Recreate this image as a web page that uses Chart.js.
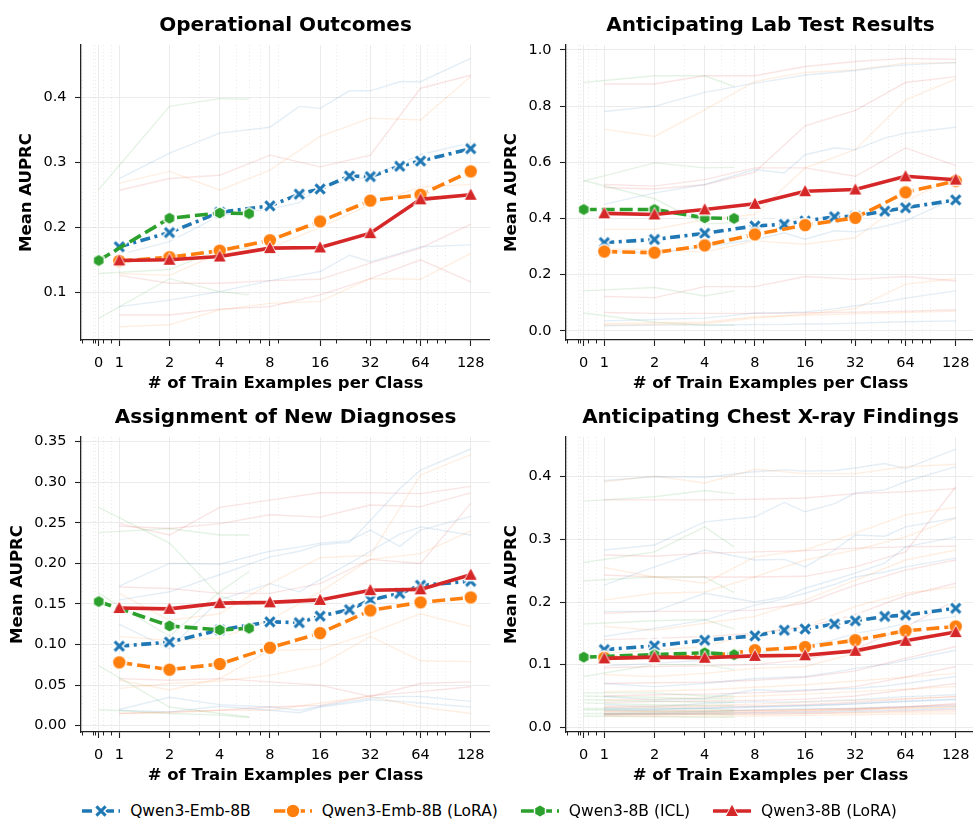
<!DOCTYPE html>
<html>
<head>
<meta charset="utf-8">
<script src="https://cdn.jsdelivr.net/npm/chart.js@4.4.1/dist/chart.umd.min.js"></script>
<style>
  html, body { margin: 0; padding: 0; background: #fff; }
  #fig { position: relative; width: 973px; height: 821px; overflow: hidden; background: #fff;
         font-family: "DejaVu Sans", sans-serif; }
  #fig canvas.panel { position: absolute; }
  #legend { position: absolute; left: 0; top: 798px; width: 979px; height: 26px; display: flex;
            justify-content: center; align-items: center; font-size: 15.5px; color: #000; }
  #legend .item { display: flex; align-items: center; margin: 0 11.5px; white-space: nowrap; }
  #legend canvas { margin-right: 10px; }
</style>
</head>
<body>
<div id="fig">
  <canvas id="p0" class="panel" width="490" height="400" style="left:0;top:0"></canvas>
  <canvas id="p1" class="panel" width="490" height="400" style="left:485px;top:0"></canvas>
  <canvas id="p2" class="panel" width="490" height="400" style="left:0;top:392px"></canvas>
  <canvas id="p3" class="panel" width="490" height="400" style="left:485px;top:392px"></canvas>
  <div id="legend"></div>
</div>
<script>
// ---------- x positions (train examples per class) ----------
const EMB_X  = [1, 2, 4, 8, 12, 16, 24, 32, 48, 64, 128];
const LORA_X = [1, 2, 4, 8, 16, 32, 64, 128];
const ICL_X  = [0, 2, 4, 6];
const X_TICKS = [0, 1, 2, 4, 8, 16, 32, 64, 128];
const X_MINOR = [-0.8, -0.28, -0.16, 0.2, 0.6, 3, 5, 6, 7, 9, 20, 30, 40, 50, 60, 70, 80, 90];
const X_MIN = -0.86;
const X_MAX = 167;

const SERIES_NAMES = ['Qwen3-Emb-8B', 'Qwen3-Emb-8B (LoRA)', 'Qwen3-8B (ICL)', 'Qwen3-8B (LoRA)'];
const PANEL_TITLES = ['Operational Outcomes', 'Anticipating Lab Test Results',
                      'Assignment of New Diagnoses', 'Anticipating Chest X-ray Findings'];
const X_LABEL = '# of Train Examples per Class';
const Y_LABEL = 'Mean AUPRC';

// ---------- y tick labels per panel ----------
const OPS_Y_TICKS   = [0.1, 0.2, 0.3, 0.4];
const LAB_Y_TICKS   = [0.0, 0.2, 0.4, 0.6, 0.8, 1.0];
const DIAG_Y_TICKS  = [0.00, 0.05, 0.10, 0.15, 0.20, 0.25, 0.30, 0.35];
const CHEST_Y_TICKS = [0.0, 0.1, 0.2, 0.3, 0.4];

// ---------- Operational Outcomes ----------
const OPS_EMB      = [0.170, 0.192, 0.223, 0.233, 0.251, 0.259, 0.279, 0.278, 0.294, 0.302, 0.321];
const OPS_EMB_LORA = [0.148, 0.154, 0.164, 0.180, 0.209, 0.241, 0.250, 0.286];
const OPS_ICL      = [0.149, 0.214, 0.222, 0.221];
const OPS_LLM_LORA = [0.149, 0.150, 0.155, 0.168, 0.169, 0.191, 0.243, 0.250];
const OPS_TASKS_EMB = [
  [0.275, 0.314, 0.345, 0.354, 0.386, 0.383, 0.410, 0.410, 0.424, 0.424, 0.460],
  [0.078, 0.088, 0.101, 0.118, 0.126, 0.132, 0.157, 0.147, 0.160, 0.170, 0.173],
  [0.158, 0.178, 0.218, 0.228, 0.238, 0.262, 0.272, 0.278, 0.298, 0.312, 0.330]
];
const OPS_TASKS_EMB_LORA = [
  [0.268, 0.286, 0.257, 0.288, 0.340, 0.368, 0.365, 0.432],
  [0.047, 0.050, 0.073, 0.083, 0.086, 0.121, 0.120, 0.160],
  [0.129, 0.126, 0.160, 0.168, 0.200, 0.235, 0.262, 0.266]
];
const OPS_TASKS_ICL = [
  [0.258, 0.386, 0.398, 0.397],
  [0.129, 0.135, 0.166, 0.168],
  [0.060, 0.121, 0.101, 0.096]
];
const OPS_TASKS_LLM_LORA = [
  [0.257, 0.275, 0.280, 0.311, 0.293, 0.311, 0.414, 0.434],
  [0.065, 0.065, 0.074, 0.078, 0.096, 0.121, 0.150, 0.116],
  [0.126, 0.114, 0.114, 0.118, 0.120, 0.145, 0.168, 0.205]
];

// ---------- Anticipating Lab Test Results ----------
const LAB_EMB      = [0.314, 0.325, 0.347, 0.373, 0.379, 0.391, 0.406, 0.408, 0.426, 0.438, 0.466];
const LAB_EMB_LORA = [0.282, 0.278, 0.304, 0.343, 0.376, 0.402, 0.493, 0.533];
const LAB_ICL      = [0.432, 0.432, 0.402, 0.400];
const LAB_LLM_LORA = [0.418, 0.414, 0.432, 0.452, 0.497, 0.503, 0.550, 0.538];
const LAB_TASKS_EMB = [
  [0.781, 0.799, 0.849, 0.882, 0.898, 0.911, 0.920, 0.927, 0.940, 0.947, 0.955],
  [0.450, 0.491, 0.521, 0.574, 0.562, 0.627, 0.651, 0.645, 0.686, 0.704, 0.725],
  [0.018, 0.020, 0.020, 0.022, 0.022, 0.024, 0.025, 0.027, 0.030, 0.032, 0.035],
  [0.035, 0.040, 0.045, 0.063, 0.064, 0.067, 0.078, 0.089, 0.102, 0.116, 0.142],
  [0.286, 0.275, 0.300, 0.324, 0.349, 0.326, 0.356, 0.352, 0.372, 0.391, 0.473]
];
const LAB_TASKS_EMB_LORA = [
  [0.718, 0.692, 0.787, 0.888, 0.920, 0.929, 0.953, 0.955],
  [0.361, 0.361, 0.396, 0.414, 0.580, 0.645, 0.822, 0.896],
  [0.020, 0.022, 0.025, 0.045, 0.059, 0.079, 0.166, 0.186],
  [0.025, 0.028, 0.030, 0.050, 0.055, 0.060, 0.065, 0.070],
  [0.290, 0.290, 0.280, 0.320, 0.308, 0.331, 0.460, 0.550]
];
const LAB_TASKS_ICL = [
  [0.884, 0.908, 0.908, 0.870],
  [0.533, 0.598, 0.580, 0.582],
  [0.535, 0.470, 0.380, 0.385],
  [0.142, 0.154, 0.124, 0.142],
  [0.063, 0.030, 0.020, 0.020]
];
const LAB_TASKS_LLM_LORA = [
  [0.879, 0.879, 0.908, 0.908, 0.941, 0.959, 0.970, 0.967],
  [0.521, 0.515, 0.538, 0.580, 0.580, 0.550, 0.651, 0.588],
  [0.122, 0.118, 0.157, 0.157, 0.193, 0.183, 0.193, 0.177],
  [0.065, 0.062, 0.062, 0.062, 0.064, 0.066, 0.070, 0.075],
  [0.510, 0.505, 0.520, 0.565, 0.730, 0.785, 0.884, 0.905]
];

// ---------- Assignment of New Diagnoses ----------
const DIAG_EMB      = [0.098, 0.103, 0.118, 0.128, 0.127, 0.135, 0.143, 0.155, 0.163, 0.173, 0.178];
const DIAG_EMB_LORA = [0.078, 0.069, 0.076, 0.096, 0.114, 0.142, 0.152, 0.158];
const DIAG_ICL      = [0.153, 0.123, 0.118, 0.120];
const DIAG_LLM_LORA = [0.145, 0.144, 0.151, 0.152, 0.155, 0.167, 0.168, 0.186];
const DIAG_TASKS_EMB = [
  [0.172, 0.200, 0.199, 0.215, 0.220, 0.225, 0.228, 0.241, 0.221, 0.241, 0.258],
  [0.155, 0.165, 0.186, 0.208, 0.215, 0.223, 0.226, 0.253, 0.292, 0.315, 0.341],
  [0.019, 0.017, 0.024, 0.019, 0.016, 0.023, 0.028, 0.032, 0.030, 0.028, 0.023],
  [0.125, 0.095, 0.155, 0.175, 0.165, 0.180, 0.200, 0.215, 0.236, 0.245, 0.235],
  [0.020, 0.035, 0.026, 0.023, 0.019, 0.024, 0.030, 0.034, 0.036, 0.036, 0.030]
];
const DIAG_TASKS_EMB_LORA = [
  [0.163, 0.130, 0.138, 0.175, 0.207, 0.210, 0.309, 0.334],
  [0.056, 0.044, 0.058, 0.093, 0.094, 0.114, 0.138, 0.122],
  [0.015, 0.016, 0.019, 0.019, 0.028, 0.036, 0.023, 0.015],
  [0.110, 0.105, 0.108, 0.130, 0.165, 0.205, 0.212, 0.240],
  [0.046, 0.052, 0.055, 0.062, 0.075, 0.110, 0.080, 0.079]
];
const DIAG_TASKS_ICL = [
  [0.269, 0.225, 0.160, 0.148],
  [0.238, 0.243, 0.235, 0.235],
  [0.163, 0.110, 0.165, 0.190],
  [0.074, 0.023, 0.015, 0.011],
  [0.020, 0.015, 0.013, 0.010]
];
const DIAG_TASKS_LLM_LORA = [
  [0.249, 0.235, 0.269, 0.278, 0.287, 0.287, 0.286, 0.295],
  [0.246, 0.243, 0.249, 0.260, 0.257, 0.272, 0.270, 0.287],
  [0.171, 0.169, 0.163, 0.163, 0.175, 0.205, 0.200, 0.274],
  [0.058, 0.056, 0.058, 0.054, 0.050, 0.036, 0.052, 0.054],
  [0.015, 0.017, 0.019, 0.023, 0.025, 0.037, 0.042, 0.048]
];

// ---------- Anticipating Chest X-ray Findings ----------
const CHEST_EMB      = [0.124, 0.130, 0.139, 0.146, 0.155, 0.157, 0.165, 0.170, 0.177, 0.179, 0.190];
const CHEST_EMB_LORA = [0.111, 0.112, 0.113, 0.123, 0.128, 0.139, 0.154, 0.161];
const CHEST_ICL      = [0.112, 0.116, 0.119, 0.116];
const CHEST_LLM_LORA = [0.110, 0.112, 0.111, 0.114, 0.115, 0.122, 0.138, 0.152];
const CHEST_TASKS_EMB = [
  [0.394, 0.400, 0.399, 0.408, 0.411, 0.409, 0.410, 0.414, 0.421, 0.413, 0.444],
  [0.283, 0.291, 0.328, 0.336, 0.359, 0.344, 0.357, 0.374, 0.379, 0.392, 0.416],
  [0.227, 0.256, 0.283, 0.267, 0.268, 0.256, 0.283, 0.307, 0.305, 0.320, 0.334],
  [0.185, 0.185, 0.214, 0.200, 0.208, 0.222, 0.236, 0.246, 0.262, 0.288, 0.304],
  [0.145, 0.158, 0.171, 0.195, 0.205, 0.214, 0.228, 0.240, 0.248, 0.256, 0.270],
  [0.098, 0.102, 0.107, 0.118, 0.124, 0.129, 0.140, 0.150, 0.158, 0.166, 0.177],
  [0.070, 0.065, 0.070, 0.078, 0.080, 0.081, 0.088, 0.094, 0.100, 0.107, 0.123],
  [0.049, 0.044, 0.046, 0.060, 0.058, 0.060, 0.061, 0.062, 0.066, 0.070, 0.081],
  [0.036, 0.033, 0.038, 0.041, 0.040, 0.041, 0.043, 0.044, 0.047, 0.049, 0.052],
  [0.028, 0.028, 0.030, 0.032, 0.033, 0.034, 0.036, 0.037, 0.040, 0.041, 0.044],
  [0.022, 0.023, 0.025, 0.028, 0.029, 0.030, 0.030, 0.030, 0.032, 0.033, 0.034],
  [0.030, 0.029, 0.031, 0.033, 0.034, 0.035, 0.036, 0.038, 0.040, 0.042, 0.045],
  [0.020, 0.021, 0.022, 0.023, 0.024, 0.024, 0.025, 0.026, 0.027, 0.028, 0.030]
];
const CHEST_TASKS_EMB_LORA = [
  [0.392, 0.401, 0.390, 0.412, 0.405, 0.405, 0.416, 0.420],
  [0.255, 0.240, 0.230, 0.272, 0.283, 0.310, 0.339, 0.351],
  [0.203, 0.214, 0.216, 0.240, 0.267, 0.283, 0.304, 0.334],
  [0.161, 0.155, 0.166, 0.177, 0.203, 0.235, 0.267, 0.283],
  [0.118, 0.123, 0.129, 0.150, 0.161, 0.193, 0.214, 0.224],
  [0.084, 0.081, 0.086, 0.094, 0.097, 0.118, 0.139, 0.150],
  [0.057, 0.058, 0.060, 0.064, 0.068, 0.074, 0.080, 0.086],
  [0.044, 0.045, 0.047, 0.050, 0.053, 0.057, 0.061, 0.065],
  [0.033, 0.034, 0.035, 0.037, 0.040, 0.043, 0.046, 0.049],
  [0.025, 0.025, 0.026, 0.027, 0.028, 0.030, 0.031, 0.033],
  [0.020, 0.020, 0.021, 0.021, 0.022, 0.023, 0.024, 0.025],
  [0.022, 0.023, 0.024, 0.025, 0.027, 0.028, 0.030, 0.032],
  [0.017, 0.017, 0.018, 0.018, 0.019, 0.020, 0.021, 0.022]
];
const CHEST_TASKS_ICL = [
  [0.361, 0.368, 0.378, 0.373],
  [0.263, 0.280, 0.320, 0.288],
  [0.234, 0.240, 0.240, 0.215],
  [0.165, 0.170, 0.172, 0.157],
  [0.081, 0.100, 0.100, 0.092],
  [0.055, 0.055, 0.050, 0.050],
  [0.050, 0.048, 0.045, 0.046],
  [0.044, 0.042, 0.040, 0.040],
  [0.039, 0.036, 0.035, 0.035],
  [0.030, 0.030, 0.030, 0.028],
  [0.028, 0.026, 0.025, 0.025],
  [0.022, 0.022, 0.021, 0.020],
  [0.018, 0.017, 0.016, 0.016]
];
const CHEST_TASKS_LLM_LORA = [
  [0.363, 0.363, 0.363, 0.364, 0.366, 0.373, 0.376, 0.381],
  [0.275, 0.273, 0.278, 0.280, 0.282, 0.286, 0.288, 0.289],
  [0.243, 0.240, 0.240, 0.240, 0.241, 0.256, 0.280, 0.384],
  [0.182, 0.185, 0.185, 0.187, 0.198, 0.227, 0.251, 0.267],
  [0.140, 0.142, 0.145, 0.150, 0.160, 0.180, 0.210, 0.230],
  [0.095, 0.097, 0.098, 0.100, 0.108, 0.125, 0.160, 0.203],
  [0.070, 0.071, 0.072, 0.075, 0.080, 0.090, 0.110, 0.129],
  [0.050, 0.052, 0.053, 0.055, 0.058, 0.065, 0.080, 0.097],
  [0.040, 0.041, 0.042, 0.043, 0.045, 0.050, 0.060, 0.070],
  [0.032, 0.032, 0.033, 0.034, 0.036, 0.040, 0.045, 0.049],
  [0.026, 0.026, 0.027, 0.027, 0.028, 0.030, 0.033, 0.036],
  [0.020, 0.020, 0.021, 0.021, 0.022, 0.024, 0.026, 0.028],
  [0.022, 0.022, 0.023, 0.024, 0.025, 0.028, 0.032, 0.038]
];

// ---------- styling ----------
const FONT = '"DejaVu Sans", sans-serif';
const COLORS = ['#1f77b4', '#ff7f0e', '#2ca02c', '#d62728'];
const FAINT  = ['rgba(31,119,180,0.12)', 'rgba(255,127,14,0.12)', 'rgba(44,160,44,0.12)', 'rgba(214,39,40,0.12)'];
const DASHES = [[10, 4.5, 3, 4.5], [13, 5], [13, 5], []];
const SERIES_X = [EMB_X, LORA_X, ICL_X, LORA_X];

// symmetric-log style position: linear between 0 and 1, log2 above 1
const LIN = 0.41;
function T(v) { return v >= 1 ? Math.log2(v) : (v - 1) * LIN; }

// marker sprites with a white outline
function sprite(kind, color) {
  const c = document.createElement('canvas');
  c.width = 20; c.height = 20;
  const g = c.getContext('2d');
  g.translate(10, 10);
  const shape = (r) => {
    g.beginPath();
    if (kind === 'circle') g.arc(0, 0, r, 0, Math.PI * 2);
    else if (kind === 'triangle') { g.moveTo(0, -r * 1.05); g.lineTo(r, r * 0.85); g.lineTo(-r, r * 0.85); g.closePath(); }
    else if (kind === 'hexagon') {
      for (let k = 0; k < 6; k++) {
        const a = -Math.PI / 2 + k * Math.PI / 3;
        k ? g.lineTo(r * Math.cos(a), r * Math.sin(a)) : g.moveTo(r * Math.cos(a), r * Math.sin(a));
      }
      g.closePath();
    }
  };
  if (kind === 'x') {
    const arm = (a, w, col, cap) => {
      g.strokeStyle = col; g.lineWidth = w; g.lineCap = cap;
      g.beginPath(); g.moveTo(-a, -a); g.lineTo(a, a); g.moveTo(a, -a); g.lineTo(-a, a); g.stroke();
    };
    arm(5.4, 6, '#fff', 'round');
    arm(4.6, 3, color, 'butt');
  } else {
    const r = kind === 'circle' ? 7.8 : kind === 'triangle' ? 7.5 : 7.1;
    shape(r); g.fillStyle = '#fff'; g.fill();
    shape(r - 1.6); g.fillStyle = color; g.fill();
  }
  return c;
}
const MARKERS = [sprite('x', COLORS[0]), sprite('circle', COLORS[1]), sprite('hexagon', COLORS[2]), sprite('triangle', COLORS[3])];

// minor ticks and dotted minor grid on the x axis
const minorTicks = {
  id: 'minorTicks',
  beforeDatasetsDraw(chart) {
    const { ctx, chartArea: a, scales: { x } } = chart;
    ctx.save();
    ctx.strokeStyle = 'rgba(0,0,0,0.10)';
    ctx.lineWidth = 0.8;
    ctx.setLineDash([1, 2.5]);
    X_MINOR.forEach(v => {
      const px = Math.round(x.getPixelForValue(T(v))) + 0.5;
      ctx.beginPath(); ctx.moveTo(px, a.top); ctx.lineTo(px, a.bottom); ctx.stroke();
    });
    ctx.restore();
  },
  afterDraw(chart) {
    const { ctx, chartArea: a, scales: { x } } = chart;
    ctx.save();
    ctx.strokeStyle = '#222';
    ctx.lineWidth = 1;
    X_MINOR.forEach(v => {
      const px = Math.round(x.getPixelForValue(T(v))) + 0.5;
      ctx.beginPath(); ctx.moveTo(px, a.bottom); ctx.lineTo(px, a.bottom + 3.5); ctx.stroke();
    });
    ctx.restore();
  }
};

function noPadding(s) { s.paddingLeft = 0; s.paddingRight = 0; s.paddingTop = 0; s.paddingBottom = 0; }

function build(id, title, yTicks, yMin, yMax, dec, yTitlePad, main, tasks) {
  const datasets = [];
  main.forEach((vals, s) => {
    datasets.push({
      label: SERIES_NAMES[s],
      data: vals.map((y, i) => ({ x: T(SERIES_X[s][i]), y })),
      borderColor: COLORS[s], backgroundColor: COLORS[s],
      borderWidth: 3.6, borderDash: DASHES[s],
      pointStyle: MARKERS[s], pointRadius: 7, pointHoverRadius: 7, pointBorderWidth: 0,
      tension: 0, fill: false, order: 4 - s
    });
  });
  tasks.forEach((group, s) => {
    group.forEach(vals => {
      datasets.push({
        data: vals.map((y, i) => ({ x: T(SERIES_X[s][i]), y })),
        borderColor: FAINT[s], borderWidth: 1.4, pointRadius: 0,
        tension: 0, fill: false, order: 10
      });
    });
  });
  const tickFont = { family: FONT, size: 14.5 };
  const labelFont = { family: FONT, size: 16.5, weight: 'bold' };
  new Chart(document.getElementById(id), {
    type: 'line',
    data: { datasets },
    options: {
      responsive: false, animation: false, devicePixelRatio: 1,
      layout: { padding: 0, autoPadding: false },
      plugins: {
        legend: { display: false }, tooltip: { enabled: false },
        title: { display: true, text: title, fullSize: false, color: '#000',
                 font: { family: FONT, size: 20, weight: 'bold' }, padding: { top: 13.5, bottom: 7.5 } }
      },
      scales: {
        x: {
          type: 'linear', min: T(X_MIN), max: T(X_MAX),
          afterBuildTicks: s => { s.ticks = X_TICKS.map(v => ({ value: T(v) })); },
          afterFit: s => { s.height = 60; noPadding(s); },
          ticks: { autoSkip: false, maxRotation: 0, font: tickFont, color: '#000', padding: 8.5,
                   callback: (v, i) => String(X_TICKS[i]) },
          grid: { color: '#ebebeb', lineWidth: 1, tickColor: '#222', tickLength: 6, tickWidth: 1.1 },
          border: { color: '#222', width: 1.3 },
          title: { display: true, text: X_LABEL, font: labelFont, color: '#000', padding: { top: 0, bottom: 6.5 } }
        },
        y: {
          type: 'linear', min: yMin, max: yMax,
          afterBuildTicks: s => { s.ticks = yTicks.map(v => ({ value: v })); },
          afterFit: s => { s.width = 81; noPadding(s); },
          ticks: { font: tickFont, color: '#000', padding: 8.5, callback: v => v.toFixed(dec) },
          grid: { color: '#ebebeb', lineWidth: 1, tickColor: '#222', tickLength: 6, tickWidth: 1.1 },
          border: { color: '#222', width: 1.3 },
          title: { display: true, text: Y_LABEL, font: labelFont, color: '#000', padding: { top: yTitlePad, bottom: 0 } }
        }
      }
    },
    plugins: [minorTicks]
  });
}

build('p0', PANEL_TITLES[0], OPS_Y_TICKS, 0.0266, 0.4805, 1, 16.8,
      [OPS_EMB, OPS_EMB_LORA, OPS_ICL, OPS_LLM_LORA],
      [OPS_TASKS_EMB, OPS_TASKS_EMB_LORA, OPS_TASKS_ICL, OPS_TASKS_LLM_LORA]);
build('p1', PANEL_TITLES[1], LAB_Y_TICKS, -0.033, 1.0177, 1, 16.8,
      [LAB_EMB, LAB_EMB_LORA, LAB_ICL, LAB_LLM_LORA],
      [LAB_TASKS_EMB, LAB_TASKS_EMB_LORA, LAB_TASKS_ICL, LAB_TASKS_LLM_LORA]);
build('p2', PANEL_TITLES[2], DIAG_Y_TICKS, -0.0078, 0.3558, 2, 7.6,
      [DIAG_EMB, DIAG_EMB_LORA, DIAG_ICL, DIAG_LLM_LORA],
      [DIAG_TASKS_EMB, DIAG_TASKS_EMB_LORA, DIAG_TASKS_ICL, DIAG_TASKS_LLM_LORA]);
build('p3', PANEL_TITLES[3], CHEST_Y_TICKS, -0.0075, 0.4634, 1, 16.8,
      [CHEST_EMB, CHEST_EMB_LORA, CHEST_ICL, CHEST_LLM_LORA],
      [CHEST_TASKS_EMB, CHEST_TASKS_EMB_LORA, CHEST_TASKS_ICL, CHEST_TASKS_LLM_LORA]);

// shared legend
const legend = document.getElementById('legend');
SERIES_NAMES.forEach((name, s) => {
  const item = document.createElement('div');
  item.className = 'item';
  const icon = document.createElement('canvas');
  icon.width = 38; icon.height = 20;
  const g = icon.getContext('2d');
  g.strokeStyle = COLORS[s]; g.lineWidth = 3.6; g.setLineDash(DASHES[s]);
  g.beginPath(); g.moveTo(0, 10); g.lineTo(38, 10); g.stroke();
  g.drawImage(MARKERS[s], 9, 0);
  const label = document.createElement('span');
  label.textContent = name;
  item.appendChild(icon); item.appendChild(label);
  legend.appendChild(item);
});
</script>
</body>
</html>
